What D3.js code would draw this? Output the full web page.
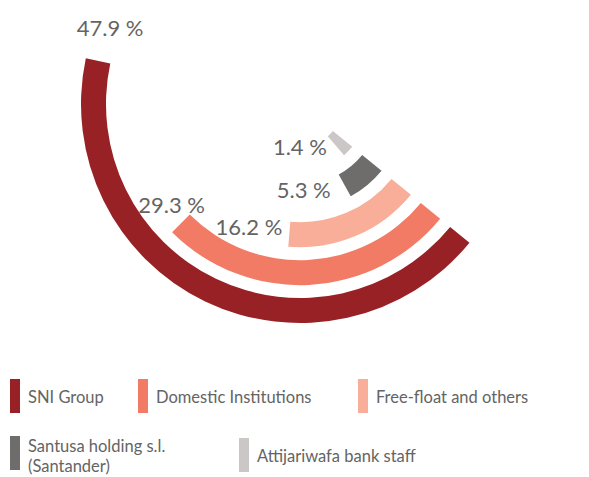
<!DOCTYPE html>
<html>
<head>
<meta charset="utf-8">
<script src="https://cdn.jsdelivr.net/npm/d3@7"></script>
<style>
  body { margin: 0; background: #fff; }
  svg { display: block; font-family: Lato, "Open Sans", sans-serif; }
</style>
</head>
<body>
<div id="chart"></div>
<script>
const WIDTH = 589
const HEIGHT = 477
const CENTER_X = 300
const CENTER_Y = 104
const END_DEG = 129.3            // every arc finishes on this angle (clockwise from 12 o'clock)
const TEXT_COLOR = '#646464'

// data
const CATEGORIES = ['SNI Group', 'Domestic Institutions', 'Free-float and others', 'Santusa holding s.l. (Santander)', 'Attijariwafa bank staff']
const SHARES = [47.9, 29.3, 16.2, 5.3, 1.4]
const LEGEND_LINES = [['SNI Group'], ['Domestic Institutions'], ['Free-float and others'], ['Santusa holding s.l.', '(Santander)'], ['Attijariwafa bank staff']]
const COLORS = ['#982126', '#f27b66', '#f8ae98', '#6f6d6b', '#cbc7c6']

// label placement relative to the open end of each arc
const LABEL_OFFSETS = [[12, -25, 'middle'], [24, -10, 'end'], [-7, 1, 'end'], [-14, 13, 'end'], [-9, 9, 'end']]
// legend layout
const LEGEND_POS = [[10, 379], [138, 379], [358, 379], [10, 436], [239, 438]]
const SWATCH_W = 10
const SWATCH_H = 34

const toRad = d => d * Math.PI / 180
const fmt = v => `${d3.format('.1f')(v)} %`

const rows = CATEGORIES.map((c, i) => ({ name: c, value: SHARES[i], color: COLORS[i], i }))

const R_SCALE = d3.scaleBand()
    .domain(CATEGORIES)
    .range([219, 42.5])
    .paddingInner(0.34)

const A_SCALE = d3.scaleLinear()
    .domain([0, 50])
    .range([toRad(5.65), toRad(159.2)])

const arc = d3.arc()
    .innerRadius(d => R_SCALE(d.name))
    .outerRadius(d => R_SCALE(d.name) + R_SCALE.bandwidth())
    .startAngle(toRad(END_DEG))
    .endAngle(d => toRad(END_DEG) + A_SCALE(d.value))

const SVG = d3.select('#chart')
    .append('svg')
    .attr('width', WIDTH)
    .attr('height', HEIGHT)

const G = SVG.append('g')
    .attr('transform', `translate(${CENTER_X}, ${CENTER_Y})`)

G.selectAll('path')
    .data(rows)
    .enter()
    .append('path')
    .attr('d', arc)
    .attr('fill', d => d.color)

// percentage labels near the far end of each arc
G.selectAll('text.value')
    .data(rows)
    .enter()
    .append('text')
    .attr('class', 'value')
    .each(function (d) {
        const a = toRad(END_DEG) + A_SCALE(d.value)
        const r = R_SCALE(d.name) + R_SCALE.bandwidth() / 2
        const [dx, dy, anchor] = LABEL_OFFSETS[d.i]
        d3.select(this)
            .attr('x', r * Math.sin(a) + dx)
            .attr('y', -r * Math.cos(a) + dy)
            .attr('text-anchor', anchor)
    })
    .attr('fill', TEXT_COLOR)
    .style('font-size', '22px')
    .text(d => fmt(d.value))

// legend
const LEGEND = SVG.append('g').attr('id', 'legend')

const items = LEGEND.selectAll('g')
    .data(rows)
    .enter()
    .append('g')
    .attr('transform', d => `translate(${LEGEND_POS[d.i][0]}, ${LEGEND_POS[d.i][1]})`)

items.append('rect')
    .attr('width', SWATCH_W)
    .attr('height', SWATCH_H)
    .attr('fill', d => d.color)

items.append('text')
    .attr('fill', TEXT_COLOR)
    .style('font-size', '16.5px')
    .selectAll('tspan')
    .data(d => LEGEND_LINES[d.i])
    .enter()
    .append('tspan')
    .attr('x', 18)
    .attr('y', (_, j, nodes) => (nodes.length > 1 ? 16 : 24) + j * 20)
    .text(t => t)
</script>
</body>
</html>
